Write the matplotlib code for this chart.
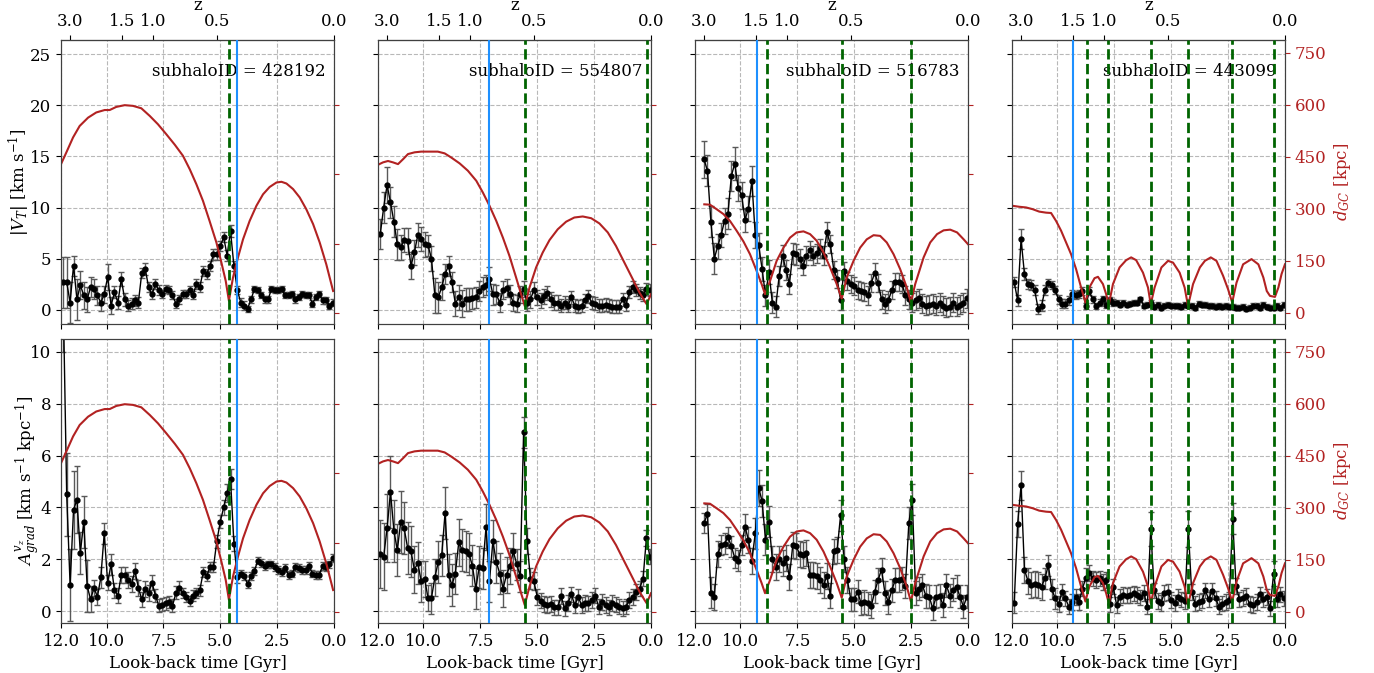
import numpy as np
import matplotlib
matplotlib.use('Agg')
import matplotlib.pyplot as plt

plt.rcParams['font.family'] = ['DejaVu Serif']
plt.rcParams['mathtext.fontset'] = 'dejavuserif'
plt.rcParams['font.size'] = 12
plt.rcParams['axes.edgecolor'] = '0.25'

nan = np.nan

subhalo_ids = ['428192', '554807', '516783', '443099']
infall_t = [4.25, 7.13, 9.29, 9.31]
peri_t = [[4.6], [5.55, 0.19], [8.83, 5.53, 2.49], [8.72, 7.77, 5.89, 4.26, 2.32, 0.48]]

z_labels = ['3.0', '1.5', '1.0', '0.5', '0.0']
z_tick_lookback = [11.62, 9.3, 7.95, 5.15, 0.0]
bottom_ticks = [12.0, 10.0, 7.5, 5.0, 2.5, 0.0]

# ---------------- |V_T| (top row) ----------------
vt_1 = [2.7, 2.7, 0.7, 4.3, 1.0, 2.4, 1.4, 1.0, 2.2, 2.0,
        1.4, 0.7, 1.5, 3.2, 0.4, 1.7, 0.7, 3.0, 1.0, 0.4,
        0.6, 0.9, 0.7, 3.6, 4.0, 2.2, 1.5, 2.5, 1.9, 1.5,
        2.0, 1.9, 1.4, 0.6, 1.0, 1.5, 1.5, 1.9, 1.4, 2.5,
        2.2, 3.8, 3.5, 4.3, 5.4, 5.4, 6.2, 7.1, 5.3, 7.7,
        4.3, 1.9, 0.7, 0.4, 0.1, 1.0, 2.0, 1.9, 1.4, 1.0,
        1.0, 2.0, 1.95, 1.9, 2.0, 1.4, 1.45, 1.5, 1.0, 1.2,
        1.5, 1.45, 1.4, 0.6, 1.2, 1.5, 0.9, 0.9, 0.4, 0.7]
vt_err_1 = [2.5, 2.5, 2.0, 1.0, 2.0, 1.4, 1.3, 1.2, 1.0, 1.0,
            0.9, 0.8, 0.8, 1.3, 0.8, 0.6, 0.6, 0.7, 0.6, 0.5,
            0.5, 0.5, 0.5, 0.5, 0.6, 0.5, 0.5, 0.5, 0.5, 0.4,
            0.4, 0.4, 0.4, 0.4, 0.4, 0.4, 0.4, 0.4, 0.4, 0.5,
            0.5, 0.5, 0.5, 0.5, 0.5, 0.5, 0.5, 0.5, 0.5, 0.6,
            0.5, 0.4, 0.4, 0.4, 0.3, 0.3, 0.3, 0.3, 0.3, 0.3,
            0.3, 0.3, 0.3, 0.3, 0.3, 0.3, 0.3, 0.3, 0.3, 0.3,
            0.3, 0.3, 0.3, 0.3, 0.3, 0.3, 0.3, 0.3, 0.3, 0.3]

vt_2 = [7.4, 10.0, 12.2, 10.5, 8.6, 6.4, 6.1, 6.8, 6.7, 4.3,
        5.6, 7.3, 6.9, 6.4, 6.3, 5.0, 1.4, 1.2, 2.2, 3.5,
        4.3, 2.7, 0.6, 1.2, 0.6, 1.0, 1.0, 1.1, 1.2, 1.8,
        2.2, 2.4, 3.0, 1.5, 1.5, 0.7, 1.9, 2.1, 1.5, 0.7,
        0.6, 1.5, 2.0, 0.7, 1.0, 1.9, 1.2, 0.9, 1.3, 1.6,
        1.0, 0.7, 0.7, 0.4, 0.7, 0.4, 1.2, 0.4, 0.3, 0.4,
        0.9, 1.3, 0.7, 0.6, 0.4, 0.4, 0.5, 0.4, 0.3, 0.3,
        0.3, 1.0, 0.5, 1.7, 2.2, 1.9, 1.6, 1.4, 2.0, 1.9]
vt_err_2 = [1.5, 1.5, 1.8, 1.5, 1.5, 1.5, 1.2, 1.2, 1.3, 1.3,
            1.2, 1.2, 1.2, 1.2, 1.0, 1.2, 1.7, 1.5, 1.3, 1.0,
            1.0, 1.0, 1.2, 1.2, 1.3, 1.1, 1.1, 1.0, 1.0, 1.0,
            1.0, 1.0, 1.2, 1.0, 0.9, 0.9, 0.9, 0.9, 0.9, 0.8,
            0.8, 0.8, 0.8, 0.8, 0.8, 0.8, 0.7, 0.7, 0.7, 0.7,
            0.7, 0.7, 0.7, 0.6, 0.6, 0.6, 0.6, 0.6, 0.6, 0.6,
            0.6, 0.6, 0.6, 0.6, 0.6, 0.6, 0.6, 0.6, 0.6, 0.6,
            0.6, 0.6, 0.6, 0.6, 0.6, 0.6, 0.6, 0.6, 0.6, 0.6]

vt_3 = [nan, nan, 14.7, 13.6, 8.6, 5.0, 6.2, 7.3, 8.7, 9.4,
        13.1, 14.3, 11.9, 11.2, 8.8, 9.9, 12.6, 7.3, 6.3, 4.0,
        1.4, 3.7, 0.7, 0.3, 3.3, 5.3, 3.9, 2.5, 5.5, 5.4,
        5.0, 4.3, 5.3, 5.8, 5.3, 5.5, 6.0, 5.3, 7.6, 6.4,
        3.9, 3.0, 0.9, 3.8, 2.8, 2.5, 2.3, 1.9, 1.8, 1.7,
        1.4, 2.6, 3.6, 2.6, 1.0, 0.6, 0.9, 1.9, 2.7, 2.7,
        2.5, 1.4, 1.0, 0.7, 0.9, 1.1, 0.6, 0.4, 0.5, 0.6,
        0.4, 0.7, 0.4, 0.2, 0.3, 0.7, 0.3, 0.5, 0.7, 1.1]
vt_err_3 = [nan, nan, 1.8, 1.5, 1.5, 1.5, 1.2, 1.2, 1.3, 1.5,
            1.5, 1.6, 1.3, 1.3, 1.2, 1.2, 1.5, 1.3, 1.2, 1.2,
            1.0, 1.2, 1.0, 1.0, 1.0, 1.0, 1.0, 1.0, 1.0, 1.0,
            0.9, 0.9, 0.9, 0.9, 0.9, 0.9, 0.9, 0.9, 1.0, 0.9,
            0.9, 0.9, 0.9, 0.9, 0.9, 0.9, 0.9, 0.9, 0.9, 0.9,
            0.9, 0.9, 1.0, 0.9, 0.9, 0.9, 0.9, 0.9, 0.9, 0.9,
            0.9, 0.9, 0.9, 0.9, 0.9, 0.9, 0.9, 0.9, 0.9, 0.9,
            0.9, 0.9, 0.9, 0.9, 0.9, 0.9, 0.9, 0.9, 0.9, 0.9]

vt_4 = [2.7, 0.9, 6.9, 3.5, 2.5, 2.4, 1.9, 0.1, 0.4, 1.9,
        2.6, 2.4, 1.9, 1.0, 0.6, 0.6, 0.9, 1.5, 1.4, 1.5,
        1.8, 0.4, 1.8, 1.0, 0.4, 0.7, 1.0, 0.5, 0.9, 0.7,
        0.7, 0.5, 0.7, 0.5, 0.6, 0.7, 0.7, 1.0, 0.4, 0.5,
        0.7, 0.3, 0.5, 0.2, 0.4, 0.5, 0.4, 0.4, 0.4, 0.3,
        0.5, 0.4, 0.4, 0.2, 0.6, 0.5, 0.5, 0.4, 0.4, 0.3,
        0.4, 0.3, 0.4, 0.3, 0.3, 0.2, 0.2, 0.3, 0.1, 0.2,
        0.4, 0.4, 0.2, 0.5, 0.3, 0.2, 0.2, 0.4, 0.2, 0.5]
vt_err_4 = [0.5, 0.5, 1.0, 0.6, 0.5, 0.5, 0.5, 0.5, 0.5, 0.5,
            0.4, 0.4, 0.4, 0.4, 0.4, 0.4, 0.4, 0.4, 0.4, 0.4,
            0.4, 0.3, 0.4, 0.3, 0.3, 0.3, 0.3, 0.3, 0.3, 0.3,
            0.25, 0.25, 0.25, 0.25, 0.25, 0.25, 0.25, 0.25, 0.25, 0.25,
            0.25, 0.25, 0.25, 0.25, 0.25, 0.25, 0.25, 0.25, 0.25, 0.25,
            0.25, 0.25, 0.25, 0.25, 0.25, 0.25, 0.25, 0.25, 0.25, 0.25,
            0.25, 0.25, 0.25, 0.25, 0.25, 0.25, 0.25, 0.25, 0.25, 0.25,
            0.25, 0.25, 0.25, 0.25, 0.25, 0.25, 0.25, 0.25, 0.25, 0.25]

# ---------------- A_grad (bottom row) ----------------
ag_1 = [12.0, 4.5, 1.0, 3.9, 4.3, 2.25, 3.45, 0.97, 0.45, 0.9,
        0.55, 1.3, 3.0, 1.1, 1.8, 0.8, 0.6, 1.4, 1.4, 1.2,
        1.05, 1.55, 0.9, 0.45, 0.85, 0.7, 1.1, 0.6, 0.2, 0.25,
        0.3, 0.35, 0.2, 0.7, 0.9, 0.7, 0.55, 0.4, 0.6, 0.7,
        0.8, 1.5, 1.35, 1.7, 1.7, 2.7, 3.45, 4.0, 4.55, 5.1,
        2.6, 1.3, 1.45, 1.35, 1.05, 1.35, 1.55, 1.95, 1.85, 1.75,
        1.8, 1.8, 1.7, 1.6, 1.5, 1.65, 1.4, 1.45, 1.7, 1.65,
        1.6, 1.6, 1.75, 1.45, 1.4, 1.4, 1.75, 1.7, 1.8, 2.05]
ag_err_1 = [2.0, 1.6, 1.4, 1.5, 1.3, 0.8, 1.0, 1.0, 0.5, 0.3,
            0.3, 0.4, 0.4, 0.3, 0.4, 0.3, 0.3, 0.3, 0.3, 0.3,
            0.3, 0.3, 0.3, 0.3, 0.3, 0.3, 0.3, 0.25, 0.25, 0.25,
            0.25, 0.25, 0.25, 0.25, 0.25, 0.2, 0.2, 0.2, 0.2, 0.2,
            0.2, 0.2, 0.2, 0.2, 0.2, 0.25, 0.25, 0.3, 0.35, 0.4,
            0.3, 0.2, 0.15, 0.15, 0.15, 0.15, 0.15, 0.15, 0.15, 0.15,
            0.15, 0.15, 0.15, 0.15, 0.15, 0.15, 0.15, 0.15, 0.15, 0.15,
            0.15, 0.15, 0.15, 0.15, 0.15, 0.15, 0.15, 0.15, 0.15, 0.15]

ag_2 = [2.2, 2.1, 3.2, 4.6, 3.1, 2.35, 3.45, 3.2, 2.45, 2.3,
        1.6, 1.85, 1.15, 1.25, 0.5, 0.5, 1.3, 1.9, 2.15, 3.8,
        1.4, 1.0, 1.45, 2.65, 2.35, 2.3, 2.2, 1.75, 0.87, 1.7,
        1.65, 3.25, 1.15, 2.7, 1.9, 1.45, 0.87, 1.4, 1.75, 2.3,
        1.8, 1.35, 6.9, 2.7, 1.25, 1.15, 0.55, 0.4, 0.27, 0.23,
        0.27, 0.14, 0.14, 0.58, 0.1, 0.32, 0.64, 0.23, 0.55, 0.23,
        0.32, 0.3, 0.42, 0.6, 0.17, 0.36, 0.23, 0.14, 0.32, 0.25,
        0.17, 0.1, 0.17, 0.42, 0.55, 0.74, 0.87, 1.25, 2.83, 2.1]
ag_err_2 = [1.3, 1.3, 1.3, 1.4, 1.2, 1.0, 1.2, 1.0, 1.0, 1.0,
            0.9, 0.8, 0.8, 0.7, 0.5, 0.6, 0.7, 0.8, 0.8, 1.0,
            0.8, 0.8, 0.8, 0.9, 0.8, 0.8, 0.8, 0.8, 0.8, 0.8,
            0.8, 0.9, 0.8, 0.8, 0.8, 0.8, 0.7, 0.7, 0.7, 0.7,
            0.6, 0.6, 0.6, 0.5, 0.4, 0.35, 0.3, 0.3, 0.3, 0.3,
            0.3, 0.3, 0.3, 0.3, 0.3, 0.3, 0.3, 0.3, 0.3, 0.3,
            0.3, 0.3, 0.3, 0.3, 0.3, 0.3, 0.3, 0.3, 0.3, 0.3,
            0.3, 0.3, 0.3, 0.3, 0.3, 0.3, 0.3, 0.3, 0.3, 0.3]

ag_3 = [nan, nan, 3.4, 3.75, 0.7, 0.55, 2.2, 2.55, 2.6, 2.85,
        2.5, 2.05, 1.95, 2.55, 3.25, 2.75, 1.95, 3.0, 4.75, 4.25,
        2.75, 3.45, 2.0, 1.7, 2.0, 1.85, 2.05, 1.3, 2.55, 2.5,
        2.2, 2.15, 2.25, 1.4, 1.4, 1.35, 1.2, 1.0, 1.35, 0.6,
        2.3, 2.35, 3.7, 2.0, 1.2, 0.45, 0.45, 0.75, 0.3, 0.35,
        0.3, 0.2, 0.75, 1.2, 1.6, 0.7, 0.35, 0.8, 1.2, 1.2,
        1.25, 0.97, 3.4, 4.3, 0.7, 0.87, 1.0, 0.58, 0.55, 0.1,
        0.55, 0.6, 0.23, 1.0, 0.6, 0.83, 0.94, 0.55, 0.17, 0.55]
ag_err_3 = [nan, nan, 0.4, 0.4, 0.6, 0.5, 0.5, 0.4, 0.4, 0.4,
            0.4, 0.4, 0.4, 0.4, 0.5, 0.5, 0.5, 0.6, 0.7, 0.6,
            0.6, 0.6, 0.5, 0.5, 0.5, 0.5, 0.5, 0.5, 0.5, 0.5,
            0.5, 0.5, 0.5, 0.5, 0.5, 0.5, 0.5, 0.5, 0.5, 0.5,
            0.5, 0.5, 0.6, 0.5, 0.5, 0.45, 0.45, 0.45, 0.45, 0.45,
            0.45, 0.45, 0.45, 0.45, 0.45, 0.45, 0.45, 0.45, 0.45, 0.45,
            0.45, 0.45, 0.6, 0.6, 0.45, 0.45, 0.45, 0.45, 0.45, 0.45,
            0.45, 0.45, 0.45, 0.45, 0.45, 0.45, 0.45, 0.45, 0.45, 0.45]

ag_4 = [0.32, 3.37, 4.85, 1.6, 1.17, 1.0, 1.04, 1.0, 0.94, 1.26,
        1.77, 0.85, 0.49, 0.27, 0.74, 0.49, 0.17, 0.36, 0.55, 0.36,
        0.87, 1.28, 1.47, 1.26, 1.19, 1.26, 1.13, 1.19, 0.26, 0.94,
        0.23, 0.55, 0.62, 0.6, 0.62, 0.68, 0.62, 0.53, 0.7, 0.17,
        3.18, 0.8, 0.38, 0.32, 0.7, 0.74, 0.42, 0.32, 0.55, 0.45,
        0.38, 3.18, 0.74, 0.29, 0.36, 0.4, 0.8, 0.45, 0.78, 0.49,
        0.17, 0.29, 0.35, 0.42, 3.56, 0.96, 0.45, 0.5, 0.59, 0.27,
        0.23, 0.36, 0.64, 0.45, 0.55, 0.1, 1.45, 0.45, 0.64, 0.49]
ag_err_4 = [0.4, 0.5, 0.55, 0.5, 0.5, 0.5, 0.5, 0.5, 0.5, 0.4,
            0.4, 0.4, 0.4, 0.3, 0.3, 0.3, 0.3, 0.3, 0.3, 0.3,
            0.3, 0.4, 0.3, 0.3, 0.3, 0.3, 0.3, 0.3, 0.3, 0.3,
            0.3, 0.3, 0.3, 0.3, 0.3, 0.3, 0.3, 0.3, 0.3, 0.3,
            0.65, 0.3, 0.3, 0.3, 0.3, 0.3, 0.3, 0.3, 0.3, 0.3,
            0.3, 0.7, 0.3, 0.3, 0.3, 0.3, 0.3, 0.3, 0.3, 0.3,
            0.3, 0.3, 0.3, 0.3, 0.6, 0.3, 0.3, 0.3, 0.3, 0.3,
            0.3, 0.3, 0.3, 0.3, 0.3, 0.3, 0.5, 0.3, 0.3, 0.3]

# ---------------- d_GC curves (same for both rows) ----------------
dgc_t_1 = [12.0, 11.77, 11.47, 11.18, 10.81, 10.45, 10.08, 9.86, 9.57, 9.2,
           8.84, 8.47, 8.1, 7.74, 7.37, 7.0, 6.64, 6.34, 6.05, 5.76,
           5.47, 5.17, 4.95, 4.76, 4.62, 4.44, 4.22, 4.0, 3.71, 3.41,
           3.12, 2.83, 2.53, 2.31, 2.09, 1.8, 1.51, 1.22, 0.92, 0.63,
           0.34, 0.04]
dgc_1 = [429, 462, 506, 539, 563, 578, 585, 585, 594, 599,
         597, 590, 568, 544, 515, 485, 453, 414, 371, 323,
         265, 203, 145, 92, 35, 102, 160, 212, 265, 309,
         342, 363, 376, 378, 373, 357, 333, 299, 256, 203,
         140, 63]

dgc_t_2 = [12.0, 11.78, 11.56, 11.34, 11.12, 10.9, 10.68, 10.39, 10.1, 9.73,
           9.37, 9.07, 8.78, 8.41, 8.05, 7.68, 7.39, 7.1, 6.8, 6.51,
           6.22, 5.93, 5.71, 5.55, 5.34, 5.05, 4.76, 4.46, 4.1, 3.73,
           3.37, 3.0, 2.63, 2.27, 1.9, 1.54, 1.17, 0.8, 0.51, 0.29,
           0.19, 0.0]
dgc_2 = [427, 434, 438, 434, 429, 443, 458, 463, 465, 465,
         465, 460, 448, 431, 410, 381, 347, 309, 265, 217,
         164, 102, 54, 20, 73, 131, 174, 210, 241, 263,
         275, 278, 273, 258, 232, 193, 145, 97, 59, 35,
         25, 54]

dgc_t_3 = [11.59, 11.34, 11.05, 10.75, 10.46, 10.17, 9.87, 9.58, 9.29, 9.07,
           8.92, 8.7, 8.41, 8.11, 7.82, 7.53, 7.23, 6.94, 6.65, 6.35,
           6.06, 5.77, 5.55, 5.33, 5.03, 4.74, 4.45, 4.15, 3.86, 3.57,
           3.27, 2.98, 2.69, 2.51, 2.32, 1.95, 1.66, 1.36, 1.07, 0.78,
           0.48, 0.19, 0.0]
dgc_3 = [313, 312, 299, 285, 265, 237, 206, 169, 121, 83,
         54, 92, 150, 188, 217, 232, 235, 227, 208, 174,
         131, 83, 41, 102, 150, 188, 212, 224, 222, 203,
         169, 126, 73, 30, 83, 160, 203, 227, 238, 240,
         232, 212, 198]

dgc_t_4 = [12.0, 11.68, 11.38, 11.09, 10.8, 10.5, 10.28, 10.06, 9.84, 9.62,
           9.4, 9.18, 8.96, 8.77, 8.6, 8.37, 8.22, 8.0, 7.86, 7.74,
           7.56, 7.27, 6.98, 6.76, 6.54, 6.24, 6.02, 5.9, 5.73, 5.43,
           5.14, 4.92, 4.63, 4.41, 4.26, 4.04, 3.74, 3.52, 3.26, 3.01,
           2.72, 2.5, 2.32, 2.13, 1.84, 1.47, 1.17, 0.95, 0.8, 0.66,
           0.44, 0.29, 0.15, 0.0]
dgc_4 = [309, 306, 304, 299, 292, 289, 288, 265, 237, 203,
         169, 126, 73, 30, 73, 100, 104, 83, 54, 25,
         83, 131, 152, 160, 152, 116, 73, 25, 73, 131,
         150, 145, 116, 73, 20, 83, 131, 150, 160, 150,
         107, 68, 30, 87, 140, 155, 140, 102, 63, 49,
         46, 73, 112, 140]

vt_all = [(vt_1, vt_err_1), (vt_2, vt_err_2), (vt_3, vt_err_3), (vt_4, vt_err_4)]
ag_all = [(ag_1, ag_err_1), (ag_2, ag_err_2), (ag_3, ag_err_3), (ag_4, ag_err_4)]
dgc_all = [(dgc_t_1, dgc_1), (dgc_t_2, dgc_2), (dgc_t_3, dgc_3), (dgc_t_4, dgc_4)]

RED = '#b22222'
GREEN = '#006400'
BLUE = '#1e90ff'

fig, axes = plt.subplots(2, 4, figsize=(13.74, 6.73), dpi=100, sharex=True, sharey='row')
fig.subplots_adjust(left=0.0444, right=0.9352, top=0.9406, bottom=0.0743,
                    wspace=0.161, hspace=0.053)

for row in range(2):
    for col in range(4):
        ax = axes[row, col]
        series = vt_all[col] if row == 0 else ag_all[col]
        vals = np.array(series[0], dtype=float)
        errs = np.array(series[1], dtype=float)
        t = np.linspace(11.9, 0.05, len(vals))
        ax.grid(True, linestyle='--', color='#b8b8b8', linewidth=0.8)
        ax.set_axisbelow(True)
        ax.errorbar(t, vals, yerr=errs, fmt='o-', color='k', ms=3.5, lw=1.0,
                    ecolor='0.35', elinewidth=1.0, capsize=2.5, capthick=1.0, zorder=3)
        ax.set_xlim(12.0, 0.0)
        ax.set_xticks(bottom_ticks)
        ax.set_xticklabels(['%.1f' % v for v in bottom_ticks])
        if row == 0:
            ax.set_ylim(-1.4, 26.4)
            ax.set_yticks([0, 5, 10, 15, 20, 25])
            ax.text(0.97, 0.89, 'subhaloID = ' + subhalo_ids[col], transform=ax.transAxes,
                    ha='right', va='center', fontsize=12, zorder=2)
            sec = ax.secondary_xaxis('top')
            sec.set_xticks(z_tick_lookback)
            sec.set_xticklabels(z_labels)
            sec.set_xlabel('z', labelpad=2)
        else:
            ax.set_ylim(-0.46, 10.5)
            ax.set_yticks([0, 2, 4, 6, 8, 10])
            ax.set_xlabel('Look-back time [Gyr]')

        ax2 = ax.twinx()
        td, dd = dgc_all[col]
        ax2.plot(td, dd, color=RED, lw=1.5, zorder=2)
        for tp in peri_t[col]:
            ax2.axvline(tp, color=GREEN, ls='--', lw=2.0, zorder=4)
        ax2.axvline(infall_t[col], color=BLUE, ls='-', lw=1.5, zorder=4)
        ax2.set_ylim(-32, 787)
        ax2.tick_params(axis='y', colors=RED, labelcolor=RED)
        if col == 3:
            ax2.set_yticks([0, 150, 300, 450, 600, 750])
            ax2.set_ylabel(r'$d_{GC}$ [kpc]', color=RED)
        else:
            ax2.set_yticks([0, 200, 400, 600])
            ax2.set_yticklabels([])
        ax2.set_xlim(12.0, 0.0)

axes[0, 0].set_ylabel(r'$|V_T|$ [km s$^{-1}$]')
axes[0, 0].yaxis.set_label_coords(-0.105, 0.5)
axes[1, 0].set_ylabel(r'$A^{v_z}_{grad}$ [km s$^{-1}$ kpc$^{-1}$]')
axes[1, 0].yaxis.set_label_coords(-0.07, 0.5)

fig.savefig('out.png', dpi=100)
